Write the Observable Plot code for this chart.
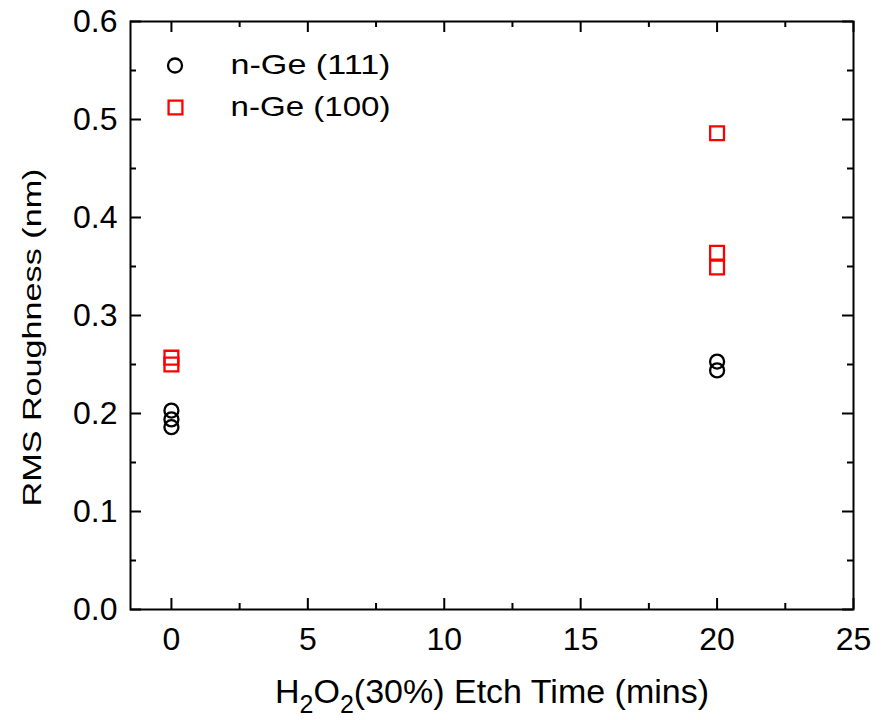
<!DOCTYPE html>
<html><head><meta charset="utf-8">
<script src="https://cdn.jsdelivr.net/npm/d3@7"></script>
<script src="https://cdn.jsdelivr.net/npm/@observablehq/plot@0.6"></script>
<style>body{margin:0;background:#fff;}</style>
</head><body><div id="chart"></div>
<script>
// ---- data ----
const seriesNames = ["n-Ge (111)", "n-Ge (100)"];
const times111 = [0, 0, 0, 20, 20];
const rms111   = [0.203, 0.194, 0.186, 0.253, 0.244];
const times100 = [0, 0, 20, 20, 20];
const rms100   = [0.257, 0.250, 0.486, 0.364, 0.349];
const xMajor = [0, 5, 10, 15, 20, 25];
const xMinor = [2.5, 7.5, 12.5, 17.5, 22.5];
const yMajor = [0, 0.1, 0.2, 0.3, 0.4, 0.5, 0.6];
const yMinor = [0.05, 0.15, 0.25, 0.35, 0.45, 0.55];
const xLabel = "H2O2(30%) Etch Time (mins)";
const yLabel = "RMS Roughness (nm)";

// ---- layout ----
const W = 884, H = 720, mL = 130, mR = 31, mT = 21, mB = 111;
const plotW = W - mL - mR, plotH = H - mT - mB;
const MAJ = 11, MIN = 6;
const font = "'Liberation Sans', Arial, Helvetica, sans-serif";
const RED = "#ff0000";

const pts111 = times111.map((t, i) => ({t, v: rms111[i]}));
const pts100 = times100.map((t, i) => ({t, v: rms100[i]}));

const chart = Plot.plot({
  width: W, height: H,
  marginLeft: mL, marginRight: mR, marginTop: mT, marginBottom: mB,
  style: {fontFamily: font, background: "white", color: "black", overflow: "visible"},
  x: {domain: [-1.5, 25]},
  y: {domain: [0, 0.6]},
  marks: [
    Plot.axisX({ticks: xMajor, tickSize: 0, tickPadding: 18, fontSize: 32, label: null, tickFormat: d => String(d)}),
    Plot.axisY({ticks: yMajor, tickSize: 0, tickPadding: 13, fontSize: 32, label: null, tickFormat: d3.format(".1f")}),
    // inward ticks: bottom / top
    Plot.tickX(xMajor, {x: d => d, insetTop: plotH - MAJ, stroke: "black", strokeWidth: 2}),
    Plot.tickX(xMinor, {x: d => d, insetTop: plotH - MIN, stroke: "black", strokeWidth: 2}),
    Plot.tickX(xMajor, {x: d => d, insetBottom: plotH - MAJ, stroke: "black", strokeWidth: 2}),
    Plot.tickX(xMinor, {x: d => d, insetBottom: plotH - MIN, stroke: "black", strokeWidth: 2}),
    // inward ticks: left / right
    Plot.tickY(yMajor, {y: d => d, insetRight: plotW - MAJ, stroke: "black", strokeWidth: 2}),
    Plot.tickY(yMinor, {y: d => d, insetRight: plotW - MIN, stroke: "black", strokeWidth: 2}),
    Plot.tickY(yMajor, {y: d => d, insetLeft: plotW - MAJ, stroke: "black", strokeWidth: 2}),
    Plot.tickY(yMinor, {y: d => d, insetLeft: plotW - MIN, stroke: "black", strokeWidth: 2}),
    Plot.frame({stroke: "black", strokeWidth: 2}),
    // data
    Plot.dot(pts111, {x: "t", y: "v", r: 7, symbol: "circle", stroke: "black", strokeWidth: 2.3, fill: "none"}),
    Plot.dot(pts100, {x: "t", y: "v", r: 7.8, symbol: "square", stroke: RED, strokeWidth: 2.3, fill: "none"}),
    // legend
    Plot.dot([seriesNames[0]], {frameAnchor: "top-left", dx: 44.5, dy: 44, r: 7, symbol: "circle", stroke: "black", strokeWidth: 2.3, fill: "none"}),
    Plot.dot([seriesNames[1]], {frameAnchor: "top-left", dx: 45, dy: 86, r: 7.8, symbol: "square", stroke: RED, strokeWidth: 2.3, fill: "none"}),
    Plot.text([seriesNames[0]], {text: d => d, frameAnchor: "top-left", dx: 100, dy: 44, textAnchor: "start", lineAnchor: "middle", fontSize: 28, fill: "black"}),
    Plot.text([seriesNames[1]], {text: d => d, frameAnchor: "top-left", dx: 100, dy: 86, textAnchor: "start", lineAnchor: "middle", fontSize: 28, fill: "black"}),
    // axis labels
    Plot.text([yLabel], {text: d => d, frameAnchor: "left", dx: -108, dy: 22, rotate: -90, lineAnchor: "top", textAnchor: "middle", fontSize: 26, fill: "black"}),
    Plot.text([xLabel], {text: d => d, frameAnchor: "bottom", dy: 93, lineAnchor: "bottom", textAnchor: "middle", fontSize: 34, fill: "black"})
  ]
});

const svg = d3.select(chart);
svg.selectAll("text").each(function() {
  const el = d3.select(this);
  const t = this.textContent;
  if (t === yLabel) {
    el.attr("textLength", 338).attr("lengthAdjust", "spacingAndGlyphs");
  } else if (t === seriesNames[0] || t === seriesNames[1]) {
    el.attr("textLength", 160).attr("lengthAdjust", "spacingAndGlyphs");
  } else if (t === xLabel) {
    this.textContent = "";
    const parts = [["H", false], ["2", true], ["O", false], ["2", true], ["(30%) Etch Time (mins)", false]];
    let shifted = false;
    for (const [s, sub] of parts) {
      const ts = el.append("tspan").text(s);
      if (sub) { ts.attr("font-size", 25).attr("dy", shifted ? 0 : 10); shifted = true; }
      else { if (shifted) ts.attr("dy", -10); shifted = false; }
    }
  }
});

document.getElementById("chart").appendChild(chart);
</script>
</body></html>
